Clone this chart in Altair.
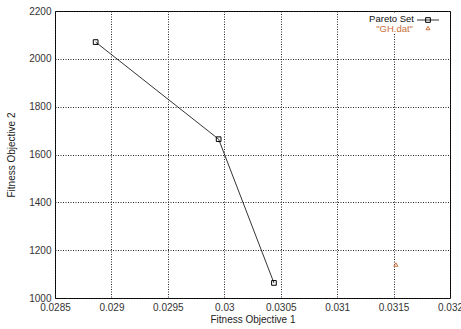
import altair as alt
import pandas as pd

# Pareto set points
pareto_x = [0.02886, 0.02995, 0.03044]
pareto_y = [2070, 1664, 1063]
# GH.dat point
gh_x = [0.03152]
gh_y = [1140]

x_ticks = [0.0285, 0.029, 0.0295, 0.03, 0.0305, 0.031, 0.0315, 0.032]
y_ticks = [1000, 1200, 1400, 1600, 1800, 2000, 2200]

legend_labels = ["Pareto Set", '"GH.dat"']

pareto = pd.DataFrame({"x": pareto_x, "y": pareto_y})
gh = pd.DataFrame({"x": gh_x, "y": gh_y})

FONT = "Liberation Sans"
ORANGE = "#c8703a"

xs = alt.Scale(domain=[0.0285, 0.032], nice=False, zero=False)
ys = alt.Scale(domain=[1000, 2200], nice=False, zero=False)

xax = alt.Axis(values=x_ticks, format="~g", title="Fitness Objective 1",
               grid=True, gridDash=[1, 1.5], gridColor="#222", gridOpacity=1,
               ticks=False, domain=False, labelPadding=4, labelFontSize=10,
               labelFont=FONT, labelColor="#333", titleFont=FONT,
               titleFontSize=10, titleFontWeight="normal", titleColor="#222",
               titlePadding=2, labelFlush=False)
yax = alt.Axis(values=y_ticks, format="d", title="Fitness Objective 2",
               grid=True, gridDash=[1, 1.5], gridColor="#222", gridOpacity=1,
               ticks=False, domain=False, labelPadding=4, labelFontSize=10,
               labelFont=FONT, labelColor="#333", titleFont=FONT,
               titleFontSize=10, titleFontWeight="normal", titleColor="#222",
               titlePadding=12, labelFlush=False)

base = alt.Chart(pareto)

line = base.mark_line(color="#000", strokeWidth=0.8).encode(
    x=alt.X("x:Q", scale=xs, axis=xax),
    y=alt.Y("y:Q", scale=ys, axis=yax),
)
pts = base.mark_point(shape="square", size=22, filled=False, color="#000",
                      strokeWidth=1, opacity=1).encode(
    x=alt.X("x:Q", scale=xs), y=alt.Y("y:Q", scale=ys))
gh_pts = alt.Chart(gh).mark_point(shape="triangle-up", size=16, filled=False,
                                  color=ORANGE, strokeWidth=1, opacity=1).encode(
    x=alt.X("x:Q", scale=xs), y=alt.Y("y:Q", scale=ys))

# manual legend (gnuplot style: label left of sample)
leg_bg = alt.Chart(pd.DataFrame({"a": [0]})).mark_rect(color="white").encode(
    x=alt.value(305), x2=alt.value(390), y=alt.value(2), y2=alt.value(22))
leg_t1 = alt.Chart(pd.DataFrame({"t": [legend_labels[0]]})).mark_text(
    align="right", baseline="middle", font=FONT, fontSize=9.5, color="#111"
).encode(text="t:N", x=alt.value(359), y=alt.value(7.5))
leg_t2 = alt.Chart(pd.DataFrame({"t": [legend_labels[1]]})).mark_text(
    align="right", baseline="middle", font=FONT, fontSize=9.5, color=ORANGE
).encode(text="t:N", x=alt.value(358), y=alt.value(17.5))
leg_line = alt.Chart(pd.DataFrame({"a": [0]})).mark_rule(
    color="#000", strokeWidth=0.8).encode(
    x=alt.value(362), x2=alt.value(384), y=alt.value(9))
leg_sq = alt.Chart(pd.DataFrame({"a": [0]})).mark_point(
    shape="square", size=22, filled=False, color="#000", strokeWidth=1,
    opacity=1).encode(x=alt.value(373), y=alt.value(9))
leg_tri = alt.Chart(pd.DataFrame({"a": [0]})).mark_point(
    shape="triangle-up", size=16, filled=False, color=ORANGE, strokeWidth=1,
    opacity=1).encode(x=alt.value(373), y=alt.value(17))

chart = alt.layer(line, pts, gh_pts, leg_bg, leg_t1, leg_t2, leg_line,
                  leg_sq, leg_tri).properties(
    width=395, height=287,
    autosize=alt.AutoSizeParams(type="none"),
    padding={"left": 55, "top": 11, "right": 11, "bottom": 31},
    background="white",
).configure_view(stroke="#000", strokeWidth=1)

chart.save("out.html", embed_options={"renderer": "svg", "actions": False})
